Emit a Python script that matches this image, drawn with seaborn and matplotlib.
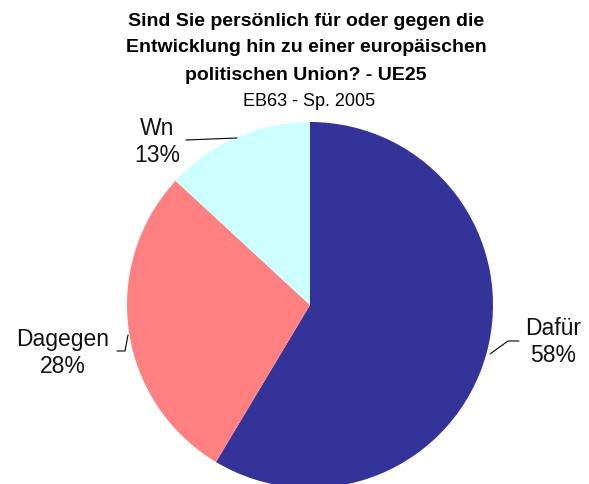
import matplotlib
matplotlib.use('Agg')
import matplotlib.pyplot as plt
import seaborn as sns

# Data
labels = ['Dafür', 'Dagegen', 'Wn']
values = [58, 28, 13]
colors = ['#333399', '#FF8080', '#CCFFFF']

title_lines = ['Sind Sie persönlich für oder gegen die',
               'Entwicklung hin zu einer europäischen',
               'politischen Union? - UE25']
subtitle = 'EB63 - Sp. 2005'

sns.set_theme(style='white')
plt.rcParams['font.family'] = ['Liberation Sans', 'DejaVu Sans']

W, H = 589, 485
fig = plt.figure(figsize=(W / 100, H / 100), dpi=100)
fig.patch.set_facecolor('white')

# pie centre (310, 306) px, radius 183 px
cx, cy, r = 310, 306, 183
ax = fig.add_axes([(cx - r) / W, (H - cy - r) / H, 2 * r / W, 2 * r / H])
ax.pie(values, colors=colors, startangle=90, counterclock=False, radius=1,
       wedgeprops=dict(linewidth=0))
ax.set_xlim(-1, 1)
ax.set_ylim(-1, 1)
ax.set_axis_off()


def d(px, py):
    return (px - cx) / r, (cy - py) / r


# labels with leader lines
label_pos = {'Dafür': (553, 342), 'Dagegen': (63, 353), 'Wn': (157, 142)}
leaders = {
    'Dafür': [(490, 355), (508, 342), (519, 342)],
    'Dagegen': [(117, 352), (125, 352), (128, 336)],
    'Wn': [(186, 141), (237, 139)],
}
for lab, val in zip(labels, values):
    x, y = d(*label_pos[lab])
    ax.text(x, y, f'{lab}\n{val}%', ha='center', va='center', fontsize=16.5,
            linespacing=1.25, color='#111111', clip_on=False)
    pts = [d(px, py) for px, py in leaders[lab]]
    ax.plot([p[0] for p in pts], [p[1] for p in pts], color='black',
            linewidth=0.8, clip_on=False)

# title
for i, line in enumerate(title_lines):
    fig.text(306 / W, 1 - (21 + 27 * i) / H, line, ha='center', va='center',
             fontsize=14, fontweight='bold', color='black')
fig.text(309 / W, 1 - 101 / H, subtitle, ha='center', va='center',
         fontsize=13, color='black')

fig.savefig('out.png', dpi=100, facecolor='white')
